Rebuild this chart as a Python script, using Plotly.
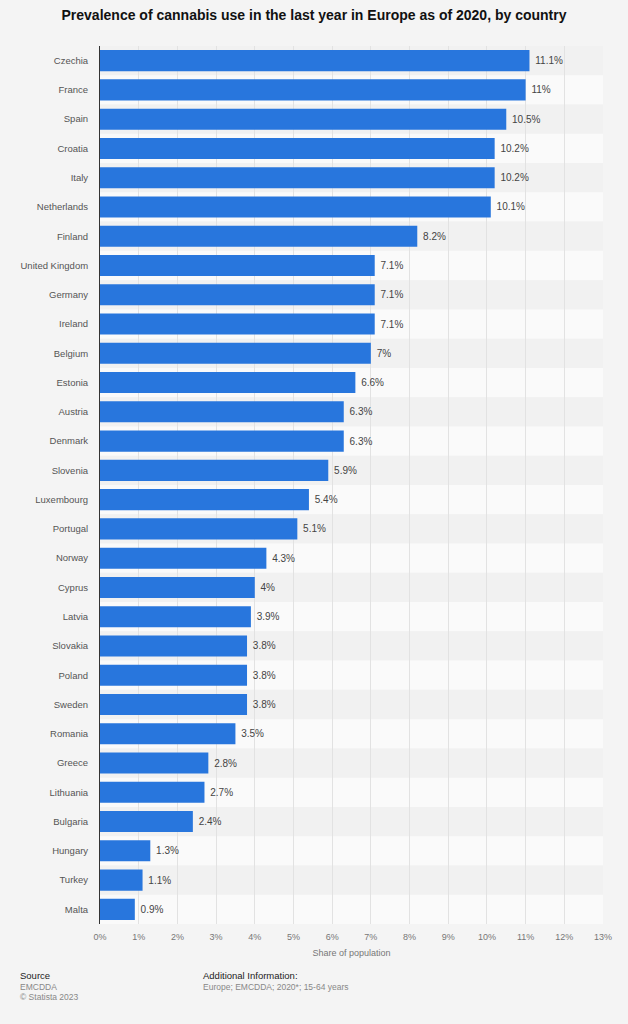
import plotly.graph_objects as go

countries = ["Czechia", "France", "Spain", "Croatia", "Italy", "Netherlands", "Finland",
             "United Kingdom", "Germany", "Ireland", "Belgium", "Estonia", "Austria",
             "Denmark", "Slovenia", "Luxembourg", "Portugal", "Norway", "Cyprus", "Latvia",
             "Slovakia", "Poland", "Sweden", "Romania", "Greece", "Lithuania", "Bulgaria",
             "Hungary", "Turkey", "Malta"]
values = [11.1, 11.0, 10.5, 10.2, 10.2, 10.1, 8.2, 7.1, 7.1, 7.1, 7.0, 6.6, 6.3, 6.3,
          5.9, 5.4, 5.1, 4.3, 4.0, 3.9, 3.8, 3.8, 3.8, 3.5, 2.8, 2.7, 2.4, 1.3, 1.1, 0.9]
tick_vals = list(range(0, 14))
tick_text = [f"{v}%" for v in tick_vals]
bar_labels = [f"{v:g}%" for v in values]

FONT = "Liberation Sans, Arial, sans-serif"

fig = go.Figure(go.Bar(
    x=values, y=countries, orientation="h", text=bar_labels,
    marker=dict(color="#2876dd", line=dict(width=0)),
    texttemplate=" %{text}", textposition="outside", cliponaxis=False,
    textfont=dict(family=FONT, size=10, color="#444444"),
    hoverinfo="skip",
))

shapes = []
for i in range(len(countries)):
    shapes.append(dict(type="rect", xref="paper", yref="y", x0=0, x1=1,
                       y0=i - 0.5, y1=i + 0.5, layer="below", line=dict(width=0),
                       fillcolor="#f1f1f1" if i % 2 == 0 else "#fafafa"))

fig.update_layout(
    width=628, height=1024,
    paper_bgcolor="#f4f4f4", plot_bgcolor="#f4f4f4",
    margin=dict(l=100, r=25, t=46, b=100),
    bargap=0.28,
    showlegend=False,
    shapes=shapes,
    title=dict(text="<b>Prevalence of cannabis use in the last year in Europe as of 2020, by country</b>",
               x=0.5, xanchor="center", y=0.985, yanchor="middle",
               font=dict(family=FONT, size=14, color="#111111")),
    font=dict(family=FONT),
    xaxis=dict(range=[0, 13], tickvals=tick_vals, ticktext=tick_text,
               showgrid=True, gridcolor="#e2e2e2", gridwidth=1, zeroline=False,
               tickfont=dict(size=9, color="#777777"), ticks="", ticklabelstandoff=6,
               title=dict(text="Share of population", font=dict(size=9, color="#777777"),
                          standoff=8)),
    yaxis=dict(autorange="reversed", showline=True, linecolor="#333333", linewidth=1,
               tickfont=dict(size=9.5, color="#555555"), ticks="", ticklabelstandoff=9,
               showgrid=False),
)

footer = [
    dict(text="Source", x=18, y=975, color="#222222", size=9.5),
    dict(text="EMCDDA", x=18, y=987, color="#888888", size=8.5),
    dict(text="© Statista 2023", x=18, y=997, color="#888888", size=8.5),
    dict(text="Additional Information:", x=201, y=975, color="#222222", size=9.5),
    dict(text="Europe; EMCDDA; 2020*; 15-64 years", x=201, y=987, color="#888888", size=8.5),
]
for f in footer:
    fig.add_annotation(text=f["text"], xref="paper", yref="paper",
                       x=(f["x"] - 100) / 503, y=(924 - f["y"]) / 878,
                       xanchor="left", yanchor="middle", showarrow=False,
                       font=dict(family=FONT, size=f["size"], color=f["color"]))

fig.write_html("out.html", config={"displayModeBar": False},
               post_script="document.body.style.margin='0';document.body.style.background='#f4f4f4';")
